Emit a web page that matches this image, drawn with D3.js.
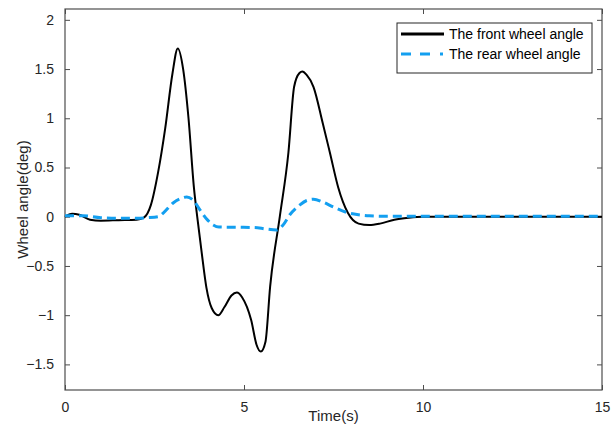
<!DOCTYPE html>
<html>
<head>
<meta charset="utf-8">
<script src="https://cdn.jsdelivr.net/npm/d3@7"></script>
<style>
  body { margin: 0; background: #fff; }
  svg { display: block; font-family: "Liberation Sans", Arial, sans-serif; }
  .tick text { fill: #262626; font-size: 14px; }
</style>
</head>
<body>
<div id="chart"></div>
<script>
// time (s) and wheel angle (deg)
var frontTime = [0, 0.2, 0.4, 0.7, 1.0, 1.5, 2.0, 2.2, 2.4, 2.6, 2.8, 3.0, 3.15, 3.3, 3.45, 3.6, 3.7, 3.82, 3.95, 4.1, 4.28, 4.45, 4.65, 4.8, 4.95, 5.2, 5.35, 5.47, 5.6, 5.73, 6.0, 6.24, 6.4, 6.55, 6.63, 6.75, 6.94, 7.2, 7.4, 7.63, 7.9, 8.2, 8.5, 8.8, 9.2, 9.6, 10, 12, 15];
var frontAngle = [0, 0.03, 0.02, -0.03, -0.04, -0.035, -0.03, -0.01, 0.12, 0.45, 0.9, 1.45, 1.71, 1.5, 1.0, 0.3, -0.02, -0.37, -0.72, -0.93, -1.0, -0.92, -0.8, -0.77, -0.82, -1.05, -1.3, -1.37, -1.27, -0.71, 0, 0.65, 1.32, 1.46, 1.475, 1.44, 1.32, 0.95, 0.65, 0.3, 0.04, -0.07, -0.085, -0.07, -0.03, -0.01, 0, 0, 0];

var rearTime = [0, 0.5, 1.0, 1.5, 2.0, 2.3, 2.6, 2.75, 3.02, 3.2, 3.4, 3.6, 3.77, 3.95, 4.14, 4.3, 4.8, 5.3, 5.6, 5.91, 6.1, 6.28, 6.56, 6.75, 6.94, 7.2, 7.49, 7.9, 8.2, 8.5, 9.0, 10, 12, 15];
var rearAngle = [0.01, 0.01, -0.01, -0.015, -0.015, -0.01, 0, 0.04, 0.14, 0.18, 0.2, 0.16, 0.07, -0.02, -0.083, -0.105, -0.107, -0.11, -0.124, -0.134, -0.08, 0.02, 0.12, 0.165, 0.178, 0.15, 0.1, 0.04, 0.02, 0.01, 0.005, 0.005, 0.005, 0.005];

var xTicks = [0, 5, 10, 15];
var yTicks = [-1.5, -1, -0.5, 0, 0.5, 1, 1.5, 2];

var seriesNames = ['The front wheel angle', 'The rear wheel angle'];

var width = 611, height = 432;
var margin = { left: 65, right: 9, top: 9, bottom: 42 };
var axisColor = '#4d4d4d';
var rearColor = '#139ff0';

var svg = d3.select('#chart').append('svg')
    .attr('width', width)
    .attr('height', height);

var x = d3.scaleLinear().domain([0, 15]).range([margin.left, width - margin.right]);
var y = d3.scaleLinear().domain([-1.76, 2.11]).range([height - margin.bottom, margin.top]);

var front = frontTime.map(function(t, i) { return [t, frontAngle[i]]; });
var rear = rearTime.map(function(t, i) { return [t, rearAngle[i]]; });

var line = d3.line()
    .x(function(d) { return x(d[0]); })
    .y(function(d) { return y(d[1]); })
    .curve(d3.curveMonotoneX);

// axes, ticks pointing inward on all four sides
var tickLen = 5;
function styleAxis(g) {
    g.select('.domain').remove();
    g.selectAll('.tick line').attr('stroke', axisColor);
}
svg.append('g')
    .attr('transform', 'translate(0,' + y.range()[0] + ')')
    .call(d3.axisBottom(x).tickValues(xTicks).tickSizeInner(-tickLen).tickSizeOuter(0).tickPadding(12))
    .call(styleAxis);
svg.append('g')
    .attr('transform', 'translate(0,' + y.range()[1] + ')')
    .call(d3.axisTop(x).tickValues(xTicks).tickSizeInner(-tickLen).tickSizeOuter(0).tickFormat(''))
    .call(styleAxis);
svg.append('g')
    .attr('transform', 'translate(' + x.range()[0] + ',0)')
    .call(d3.axisLeft(y).tickValues(yTicks).tickSizeInner(-tickLen).tickSizeOuter(0).tickPadding(11).tickFormat(d3.format('')))
    .call(styleAxis);
svg.append('g')
    .attr('transform', 'translate(' + x.range()[1] + ',0)')
    .call(d3.axisRight(y).tickValues(yTicks).tickSizeInner(-tickLen).tickSizeOuter(0).tickFormat(''))
    .call(styleAxis);

svg.append('rect')
    .attr('x', x.range()[0])
    .attr('y', y.range()[1])
    .attr('width', x.range()[1] - x.range()[0])
    .attr('height', y.range()[0] - y.range()[1])
    .attr('fill', 'none')
    .attr('stroke', axisColor)
    .attr('stroke-width', 1.2);

// curves
svg.append('path')
    .datum(front)
    .attr('d', line)
    .attr('fill', 'none')
    .attr('stroke', '#000')
    .attr('stroke-width', 2);

svg.append('path')
    .datum(rear)
    .attr('d', line)
    .attr('fill', 'none')
    .attr('stroke', rearColor)
    .attr('stroke-width', 3)
    .attr('stroke-dasharray', '9,5');

// labels
svg.append('text')
    .attr('x', (x.range()[0] + x.range()[1]) / 2)
    .attr('y', 421)
    .attr('text-anchor', 'middle')
    .attr('fill', '#262626')
    .style('font-size', '15px')
    .text('Time(s)');

svg.append('text')
    .attr('transform', 'translate(28,' + ((y.range()[0] + y.range()[1]) / 2) + ') rotate(-90)')
    .attr('text-anchor', 'middle')
    .attr('fill', '#262626')
    .style('font-size', '15px')
    .text('Wheel angle(deg)');

// legend
var legend = svg.append('g').attr('transform', 'translate(397,23)');
legend.append('rect')
    .attr('width', 195)
    .attr('height', 50)
    .attr('fill', '#fff')
    .attr('stroke', '#262626')
    .attr('stroke-width', 1);

var legendStyles = [
    { color: '#000', width: 3, dash: null },
    { color: rearColor, width: 3, dash: '10,9,10,10,3,20' }
];
seriesNames.forEach(function(name, i) {
    var row = legend.append('g').attr('transform', 'translate(0,' + (11 + i * 20) + ')');
    row.append('line')
        .attr('x1', 4).attr('x2', 47)
        .attr('stroke', legendStyles[i].color)
        .attr('stroke-width', legendStyles[i].width)
        .attr('stroke-dasharray', legendStyles[i].dash);
    row.append('text')
        .attr('x', 52)
        .attr('y', 5)
        .attr('fill', '#000')
        .style('font-size', '14px')
        .text(name);
});
</script>
</body>
</html>
